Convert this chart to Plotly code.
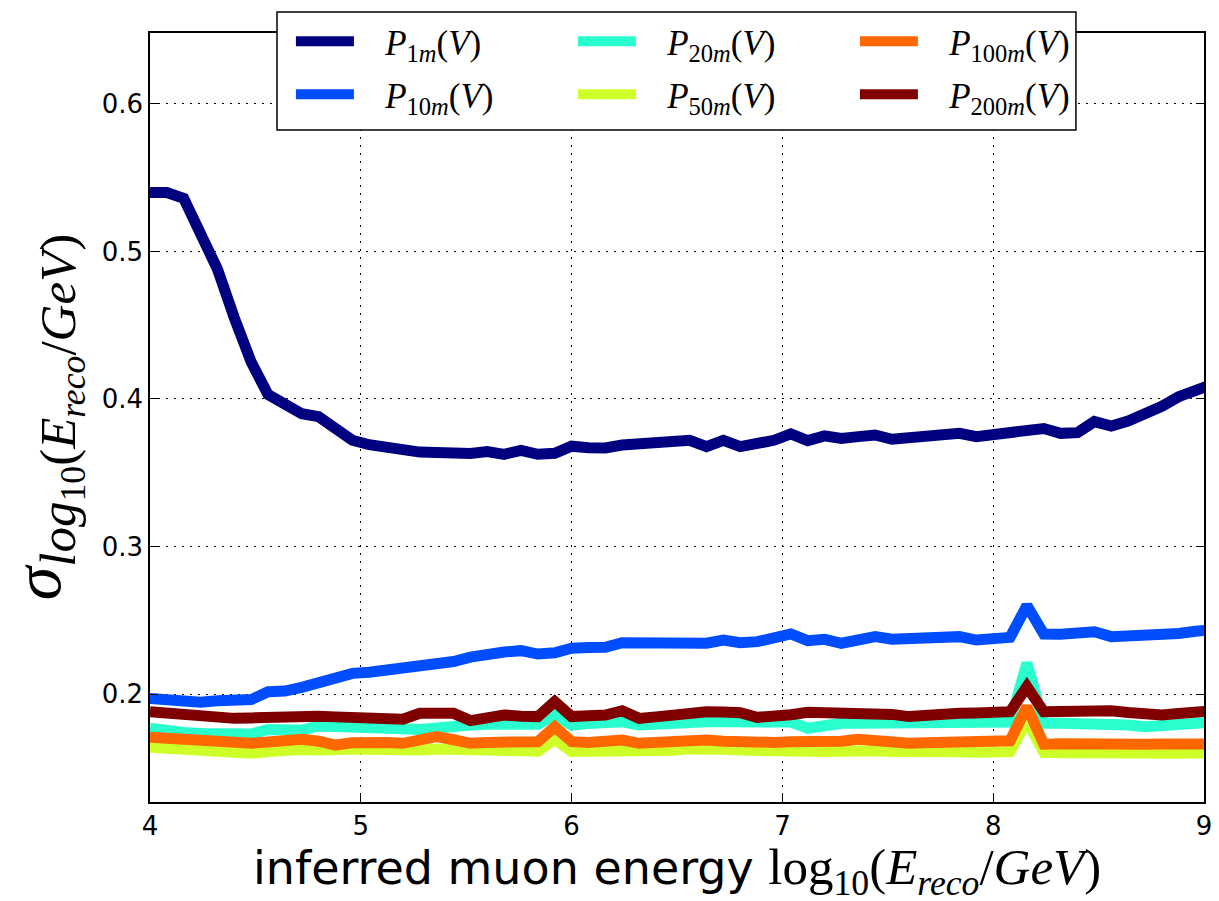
import plotly.graph_objects as go

# x positions: bins of 0.08 starting at 4
x_vals = [round(4 + 0.08 * k, 2) for k in range(64)]

p1m = [0.540, 0.540, 0.536, 0.514, 0.488, 0.455, 0.425, 0.403, 0.396, 0.390,
       0.388, 0.380, 0.372, 0.369, 0.367, 0.365, 0.364, 0.3637, 0.3632, 0.3630,
       0.3643, 0.3625, 0.3652, 0.3625, 0.3632, 0.368, 0.3670, 0.3668, 0.3688, 0.3695,
       0.3705, 0.371, 0.372, 0.3677, 0.372, 0.3677, 0.370, 0.372, 0.3763, 0.3718,
       0.375, 0.3733, 0.3745, 0.3756, 0.3727, 0.3735, 0.374, 0.3745, 0.3767, 0.3745,
       0.3755, 0.3763, 0.378, 0.380, 0.3767, 0.3772, 0.3847, 0.3817, 0.385, 0.3892,
       0.395, 0.4016, 0.406, 0.410]

p10m = [0.197, 0.196, 0.1937, 0.1945, 0.1955, 0.196, 0.1962, 0.2016, 0.202, 0.2045,
        0.2077, 0.2095, 0.214, 0.2148, 0.216, 0.2175, 0.219, 0.2205, 0.222, 0.225,
        0.2276, 0.2285, 0.2294, 0.2271, 0.228, 0.231, 0.2315, 0.2317, 0.2348, 0.2348,
        0.2348, 0.2345, 0.236, 0.2344, 0.2366, 0.2348, 0.2355, 0.2377, 0.2407, 0.2362,
        0.2371, 0.2344, 0.2365, 0.2389, 0.2371, 0.2378, 0.2384, 0.2386, 0.2389, 0.2366,
        0.2375, 0.2384, 0.260, 0.2407, 0.2405, 0.241, 0.2422, 0.2389, 0.239, 0.2393,
        0.240, 0.241, 0.2425, 0.2435]

p20m = [0.1768, 0.175, 0.174, 0.1733, 0.1735, 0.1732, 0.1729, 0.176, 0.1758, 0.1755,
        0.1783, 0.1783, 0.1783, 0.1783, 0.1775, 0.1765, 0.176, 0.1775, 0.1785, 0.179,
        0.1795, 0.1795, 0.1795, 0.1795, 0.1858, 0.179, 0.180, 0.1805, 0.1812, 0.179,
        0.180, 0.1805, 0.181, 0.1812, 0.1812, 0.1812, 0.181, 0.1812, 0.181, 0.1768,
        0.179, 0.1801, 0.1801, 0.1801, 0.1801, 0.1801, 0.1799, 0.1797, 0.1797, 0.180,
        0.1805, 0.181, 0.221, 0.1801, 0.1801, 0.1801, 0.1801, 0.1801, 0.179, 0.1778,
        0.1785, 0.180, 0.181, 0.181]

p50m = [0.1639, 0.163, 0.1622, 0.1616, 0.1612, 0.1605, 0.1598, 0.161, 0.162, 0.1623,
        0.162, 0.1615, 0.1625, 0.1625, 0.1618, 0.1612, 0.162, 0.1628, 0.1622, 0.162,
        0.1618, 0.1615, 0.1615, 0.1612, 0.1693, 0.161, 0.161, 0.1618, 0.162, 0.1602,
        0.161, 0.1618, 0.1628, 0.1632, 0.1625, 0.162, 0.1615, 0.1612, 0.1615, 0.1608,
        0.161, 0.1612, 0.1618, 0.1615, 0.161, 0.1605, 0.1605, 0.1608, 0.1608, 0.1605,
        0.1608, 0.161, 0.182, 0.1605, 0.1602, 0.1605, 0.1605, 0.160, 0.1598, 0.160,
        0.1598, 0.1595, 0.1598, 0.160]

p100m = [0.1707, 0.170, 0.169, 0.1677, 0.168, 0.1672, 0.1666, 0.1675, 0.1685, 0.1693,
         0.168, 0.1654, 0.167, 0.1677, 0.1672, 0.1666, 0.169, 0.1711, 0.169, 0.1666,
         0.1672, 0.1677, 0.1677, 0.1677, 0.1778, 0.1677, 0.1672, 0.1683, 0.1688, 0.1666,
         0.1672, 0.168, 0.1688, 0.1688, 0.168, 0.1672, 0.1666, 0.1672, 0.1677, 0.1677,
         0.1672, 0.168, 0.1693, 0.168, 0.1672, 0.1666, 0.167, 0.1675, 0.1675, 0.1672,
         0.168, 0.1683, 0.1914, 0.166, 0.1663, 0.1666, 0.1668, 0.1662, 0.166, 0.166,
         0.1662, 0.1665, 0.166, 0.166]

p200m = [0.188, 0.187, 0.1858, 0.185, 0.1842, 0.1835, 0.1838, 0.1845, 0.1852, 0.1858,
         0.185, 0.1845, 0.1842, 0.1838, 0.1832, 0.1829, 0.1869, 0.1869, 0.1869, 0.182,
         0.1847, 0.1858, 0.185, 0.1847, 0.1948, 0.1847, 0.1852, 0.1858, 0.1887, 0.1835,
         0.1845, 0.1858, 0.187, 0.188, 0.1878, 0.1873, 0.1842, 0.1847, 0.186, 0.1876,
         0.1872, 0.1869, 0.187, 0.1874, 0.1862, 0.1847, 0.1858, 0.1862, 0.1869, 0.1872,
         0.1876, 0.188, 0.205, 0.188, 0.1882, 0.1885, 0.1887, 0.1887, 0.1875, 0.1862,
         0.1858, 0.1868, 0.188, 0.1885]

series_names = ["<i>P</i><sub>1<i>m</i></sub>(<i>V</i>)",
                "<i>P</i><sub>10<i>m</i></sub>(<i>V</i>)",
                "<i>P</i><sub>20<i>m</i></sub>(<i>V</i>)",
                "<i>P</i><sub>50<i>m</i></sub>(<i>V</i>)",
                "<i>P</i><sub>100<i>m</i></sub>(<i>V</i>)",
                "<i>P</i><sub>200<i>m</i></sub>(<i>V</i>)"]
series_values = [p1m, p10m, p20m, p50m, p100m, p200m]
series_colors = ["#000080", "#004cff", "#29ffce", "#ceff29", "#ff6800", "#800000"]
# legend row (top / bottom) and rank within the row
legend_rows = ["legend", "legend2", "legend", "legend2", "legend", "legend2"]
legend_ranks = [1, 1, 2, 2, 3, 3]

x_ticks = [4, 5, 6, 7, 8, 9]
y_ticks = [0.2, 0.3, 0.4, 0.5, 0.6]

fig = go.Figure()
for name, vals, col, row, rank in zip(series_names, series_values, series_colors,
                                      legend_rows, legend_ranks):
    fig.add_trace(go.Scatter(
        x=x_vals, y=vals, mode="lines",
        name="&nbsp;&nbsp;&nbsp;" + name,
        line=dict(color=col, width=11),
        legend=row, legendrank=rank,
    ))

axis_common = dict(
    showline=True, linecolor="black", linewidth=1.5, mirror="allticks",
    ticks="inside", ticklen=8, tickwidth=1, tickcolor="black",
    showgrid=True, gridcolor="black", gridwidth=1, griddash="2px,6px",
    zeroline=False,
    tickfont=dict(family="DejaVu Sans", size=26, color="black"),
)

fig.update_xaxes(range=[4, 9], tickvals=x_ticks, ticktext=[str(t) for t in x_ticks], **axis_common)
fig.update_yaxes(range=[0.1268, 0.6481], tickvals=y_ticks, ticktext=["%.1f" % t for t in y_ticks], **axis_common)

legend_common = dict(
    orientation="h", xanchor="left", yanchor="top",
    bgcolor="rgba(0,0,0,0)", borderwidth=0,
    font=dict(family="Liberation Serif", size=35, color="black"),
    itemwidth=58, entrywidth=209, entrywidthmode="pixels",
    traceorder="normal",
)

fig.update_layout(
    width=1219, height=901,
    margin=dict(l=150, r=7, t=33, b=99),
    paper_bgcolor="white", plot_bgcolor="white",
    showlegend=True,
    legend=dict(x=0.1337, y=1.0273, **legend_common),
    legend2=dict(x=0.1337, y=0.9584, **legend_common),
    shapes=[dict(
        type="rect", xref="paper", yref="paper",
        x0=0.1205, x1=0.8785, y0=0.8739, y1=1.0273,
        line=dict(color="black", width=1.5), fillcolor="white", layer="above",
    )],
    annotations=[
        dict(
            text='inferred muon energy <span style="font-family:Liberation Serif;font-size:51px">log<sub>10</sub>(<i>E</i><sub><i>reco</i></sub>/<i>GeV</i>)</span>',
            xref="paper", yref="paper", x=0.5, y=-0.0893,
            xanchor="center", yanchor="middle", showarrow=False,
            font=dict(family="DejaVu Sans", size=46, color="black"),
        ),
        dict(
            text='<i>σ</i><sub><span style="font-size:51px"><i>log</i><sub>10</sub>(<i>E</i><sub><i>reco</i></sub>/<i>GeV</i>)</span></sub>',
            xref="paper", yref="paper", x=-0.0989, y=0.5,
            xanchor="center", yanchor="middle", showarrow=False, textangle=-90,
            font=dict(family="Liberation Serif", size=68, color="black"),
        ),
    ],
)

fig.write_html("out.html")
